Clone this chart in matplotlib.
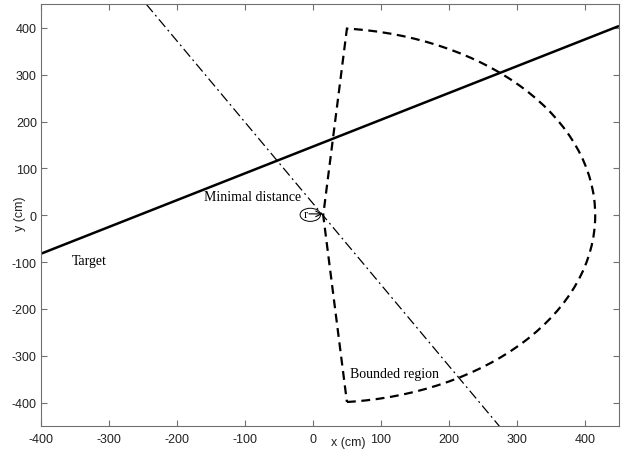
import numpy as np
import matplotlib
matplotlib.use('Agg')
import matplotlib.pyplot as plt
from matplotlib.patches import Wedge, Ellipse

plt.rcParams['axes.unicode_minus'] = False

# target trajectory (solid line)
target_x = [-400, 450]
target_y = [-82, 404]

# minimal-distance line, perpendicular to the target through the sensor
perp_x = [-245, 274]
perp_y = [450, -450]

# bounded region: sector around the sensor
sensor = (15, 0)
region_radius = 400
region_angles = (-85, 85)

# small circle around the sensor with the "r" arrow
mark_center = (-4, 1)
mark_size = (30, 28)

x_ticks = [-400, -300, -200, -100, 0, 100, 200, 300, 400]
y_ticks = [-400, -300, -200, -100, 0, 100, 200, 300, 400]

fig = plt.figure(figsize=(6.31, 4.52), dpi=100)
ax = fig.add_axes([0.065, 0.055, 0.916, 0.933])

ax.plot(target_x, target_y, color='black', lw=1.8, solid_capstyle='butt')
ax.plot(perp_x, perp_y, color='black', lw=0.9, ls=(0, (8, 3, 1.5, 3)))

region = Wedge(sensor, region_radius, region_angles[0], region_angles[1],
               fill=False, ec='black', lw=1.6, ls=(0, (4, 2.5)))
ax.add_patch(region)

ax.add_patch(Ellipse(mark_center, mark_size[0], mark_size[1],
                     fill=False, ec='black', lw=0.7))
ax.text(-11, 3, 'r', family='Liberation Serif', fontsize=9,
        ha='center', va='center')
ax.annotate('', xy=(sensor[0] - 1, 3), xytext=(-6, 3),
            arrowprops=dict(arrowstyle='->', lw=0.8, color='black',
                            shrinkA=0, shrinkB=0))

ax.text(-160, 41, 'Minimal distance', family='Liberation Serif',
        fontsize=10, va='center')
ax.text(-355, -97, 'Target', family='Liberation Serif',
        fontsize=10, va='center')
ax.text(55, -338, 'Bounded region', family='Liberation Serif',
        fontsize=10, va='center')

ax.set_xlim(-400, 450)
ax.set_ylim(-450, 450)
ax.set_xticks(x_ticks)
ax.set_yticks(y_ticks)
ax.tick_params(direction='in', length=4, width=0.8, color='#707070',
               top=True, right=True, labelsize=9, labelcolor='#222222')
ax.tick_params(axis='x', pad=5)
ax.tick_params(axis='y', pad=3)
for lbl in ax.get_xticklabels() + ax.get_yticklabels():
    lbl.set_family('Liberation Sans')
for s in ax.spines.values():
    s.set_color('#707070')
    s.set_linewidth(0.8)

# axis labels sit close in, among the tick labels
ax.text(-0.037, 0.505, 'y (cm)', transform=ax.transAxes, rotation=90,
        family='Liberation Sans', fontsize=9, color='#222222',
        ha='center', va='center')
ax.text(0.531, -0.038, 'x (cm)', transform=ax.transAxes,
        family='Liberation Sans', fontsize=9, color='#222222',
        ha='center', va='center')

fig.savefig('out.png', dpi=100)
